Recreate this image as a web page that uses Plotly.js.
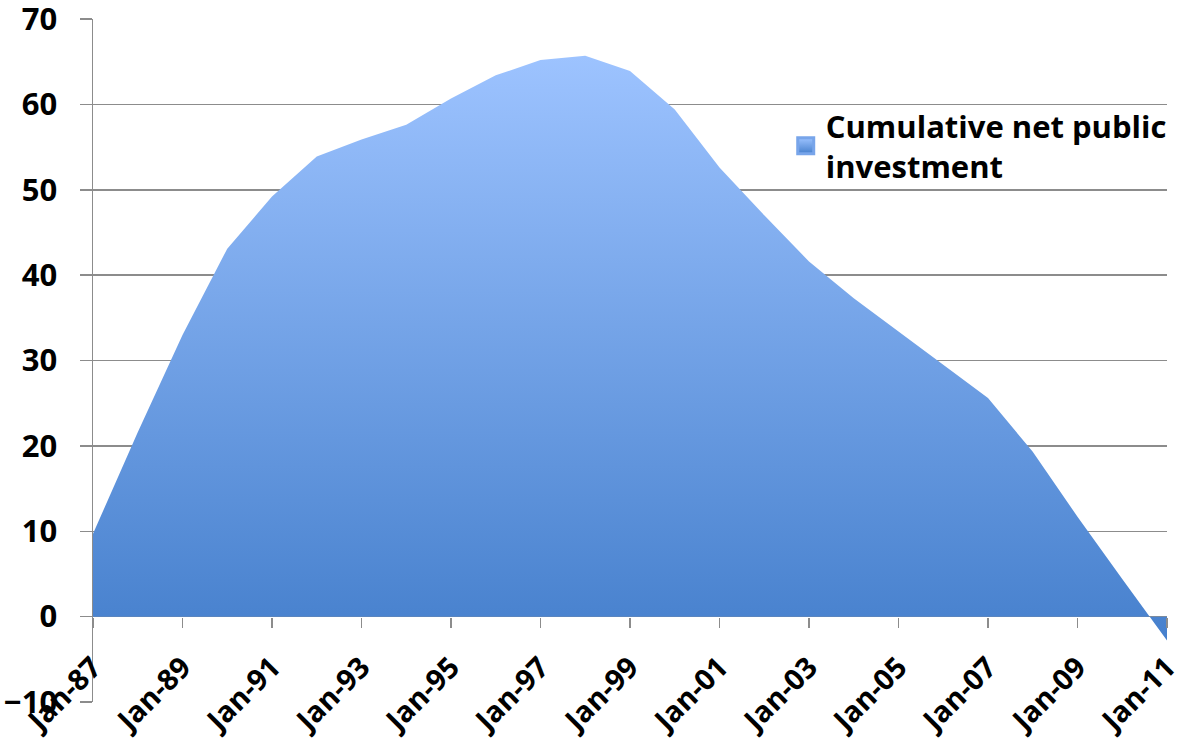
<!DOCTYPE html>
<html>
<head>
<meta charset="utf-8">
<script src="https://cdn.plot.ly/plotly-3.0.1.min.js"></script>
<style>html,body{margin:0;padding:0;background:#fff;}#chart{width:1181px;height:739px;}</style>
</head>
<body>
<div id="chart"></div>
<script>
var categories = ["Jan-87","Jan-88","Jan-89","Jan-90","Jan-91","Jan-92","Jan-93","Jan-94","Jan-95","Jan-96","Jan-97","Jan-98","Jan-99","Jan-00","Jan-01","Jan-02","Jan-03","Jan-04","Jan-05","Jan-06","Jan-07","Jan-08","Jan-09","Jan-10","Jan-11"];
var investment = [9.7, 21.6, 33.0, 43.1, 49.2, 53.9, 55.9, 57.6, 60.7, 63.4, 65.2, 65.7, 63.9, 59.4, 52.6, 47.0, 41.6, 37.3, 33.4, 29.5, 25.6, 19.3, 11.7, 4.4, -2.8];
var tickLabels = ["Jan-87","Jan-89","Jan-91","Jan-93","Jan-95","Jan-97","Jan-99","Jan-01","Jan-03","Jan-05","Jan-07","Jan-09","Jan-11"];
var seriesName = "Cumulative net public<br>investment";

var FONT = "'Open Sans', 'Noto Sans', sans-serif";
var TOP = "#9dc3ff", BOTTOM = "#4680cd";

var area = {
  type: "scatter",
  mode: "none",
  x: categories,
  y: investment,
  fill: "tozeroy",
  fillcolor: "#6f9ee6",
  fillgradient: {type: "vertical", colorscale: [[0, BOTTOM], [1, TOP]]},
  name: seriesName,
  legendgroup: "cum",
  showlegend: false,
  hoverinfo: "x+y"
};
// legend-only entry (no data drawn) to show the square gradient key
var legendKey = {
  type: "scatter",
  mode: "markers",
  x: [null], y: [null],
  name: seriesName,
  legendgroup: "cum",
  showlegend: true,
  marker: {symbol: "square", size: 16, color: TOP, gradient: {type: "vertical", color: BOTTOM},
           line: {color: "#78a5ea", width: 3}},
  hoverinfo: "skip"
};

var layout = {
  width: 1181, height: 739,
  margin: {l: 93, r: 14, t: 19, b: 37, autoexpand: false},
  paper_bgcolor: "#ffffff",
  plot_bgcolor: "#ffffff",
  showlegend: true,
  legend: {
    x: 0.645, y: 0.883, xanchor: "left", yanchor: "top",
    bgcolor: "rgba(0,0,0,0)",
    font: {family: FONT, size: 31, color: "#000", weight: "bold"},
    itemwidth: 30
  },
  xaxis: {
    type: "category",
    tickvals: tickLabels,
    ticktext: tickLabels,
    tickangle: -45,
    ticks: "outside", ticklen: 10, tickcolor: "#8c8c8c", tickwidth: 1.5,
    showgrid: false,
    showline: false,
    anchor: "free", position: 0.125,
    range: [0, categories.length - 1],
    tickfont: {family: FONT, size: 29, color: "#000", weight: "bold"},
    ticklabelstandoff: 11,
    ticklabeloverflow: "allow",
    automargin: false,
    fixedrange: true
  },
  yaxis: {
    range: [-10, 70],
    dtick: 10,
    tick0: 0,
    showgrid: true, gridcolor: "#8c8c8c", gridwidth: 1.5,
    zeroline: true, zerolinecolor: "#8c8c8c", zerolinewidth: 1.5,
    showline: true, linecolor: "#8c8c8c", linewidth: 1.5,
    ticks: "outside", ticklen: 12, tickcolor: "#8c8c8c", tickwidth: 1.5,
    tickfont: {family: FONT, size: 31, color: "#000", weight: "bold"},
    ticklabelstandoff: 16,
    ticklabeloverflow: "allow",
    automargin: false,
    fixedrange: true
  }
};

Plotly.newPlot("chart", [area, legendKey], layout, {displayModeBar: false, staticPlot: true});
</script>
</body>
</html>
